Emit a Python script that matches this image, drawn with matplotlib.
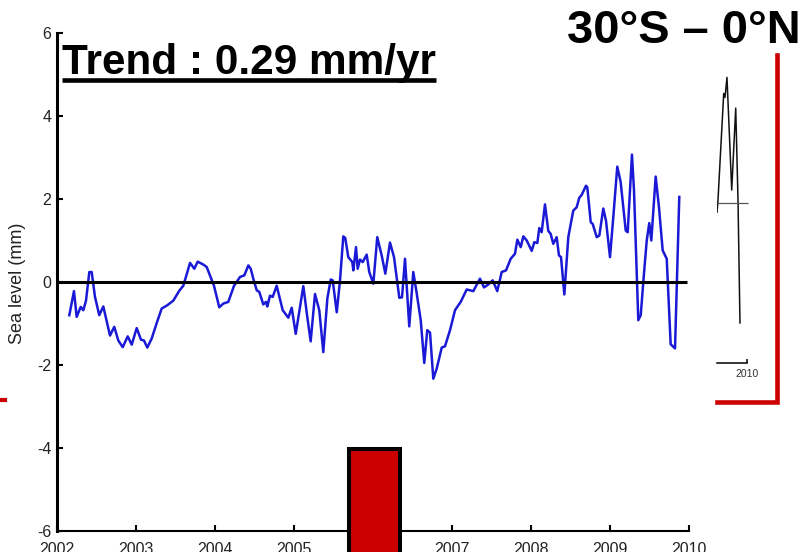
import numpy as np
import matplotlib.pyplot as plt
from matplotlib.patches import Rectangle
from matplotlib.lines import Line2D

plt.rcParams['font.family'] = ['Liberation Sans', 'DejaVu Sans']
plt.rcParams['axes.unicode_minus'] = False

##--------------------- DATA --------------------
# mean sea level, 30S-0N band (mm)
years = [2002.156, 2002.215, 2002.249, 2002.300, 2002.333, 2002.367, 2002.409, 2002.439,
         2002.481, 2002.535, 2002.586, 2002.671, 2002.725, 2002.776, 2002.832, 2002.895,
         2002.946, 2003.009, 2003.063, 2003.101, 2003.143, 2003.199, 2003.262, 2003.325,
         2003.396, 2003.472, 2003.548, 2003.599, 2003.684, 2003.738, 2003.781, 2003.852,
         2003.895, 2003.987, 2004.054, 2004.105, 2004.168, 2004.241, 2004.316, 2004.371,
         2004.422, 2004.452, 2004.485, 2004.528, 2004.561, 2004.611, 2004.646, 2004.662,
         2004.696, 2004.730, 2004.781, 2004.857, 2004.928, 2004.971, 2005.022, 2005.118,
         2005.168, 2005.211, 2005.266, 2005.320, 2005.371, 2005.422, 2005.465, 2005.490,
         2005.541, 2005.582, 2005.624, 2005.649, 2005.687, 2005.738, 2005.751, 2005.785,
         2005.806, 2005.835, 2005.870, 2005.920, 2005.953, 2006.004, 2006.054, 2006.110,
         2006.156, 2006.215, 2006.266, 2006.333, 2006.367, 2006.405, 2006.459, 2006.510,
         2006.553, 2006.604, 2006.649, 2006.687, 2006.722, 2006.763, 2006.806, 2006.870,
         2006.911, 2006.975, 2007.038, 2007.110, 2007.186, 2007.270, 2007.354, 2007.405,
         2007.459, 2007.515, 2007.573, 2007.629, 2007.684, 2007.743, 2007.797, 2007.827,
         2007.870, 2007.903, 2007.946, 2008.009, 2008.042, 2008.080, 2008.105, 2008.135,
         2008.177, 2008.219, 2008.249, 2008.282, 2008.325, 2008.354, 2008.380, 2008.422,
         2008.472, 2008.535, 2008.578, 2008.611, 2008.642, 2008.696, 2008.713, 2008.756,
         2008.781, 2008.832, 2008.865, 2008.915, 2008.949, 2009.000, 2009.042, 2009.092,
         2009.135, 2009.199, 2009.224, 2009.278, 2009.304, 2009.358, 2009.389, 2009.430,
         2009.465, 2009.497, 2009.523, 2009.578, 2009.620, 2009.667, 2009.718, 2009.768,
         2009.823, 2009.877]
sea_level = [-0.80, -0.22, -0.84, -0.60, -0.68, -0.45, 0.24, 0.24,
             -0.36, -0.80, -0.59, -1.29, -1.08, -1.41, -1.57, -1.31,
             -1.51, -1.11, -1.39, -1.41, -1.58, -1.36, -0.99, -0.64,
             -0.56, -0.45, -0.21, -0.09, 0.46, 0.32, 0.49, 0.42,
             0.36, -0.09, -0.61, -0.52, -0.48, -0.09, 0.12, 0.16,
             0.40, 0.32, 0.08, -0.20, -0.24, -0.54, -0.48, -0.59,
             -0.33, -0.36, -0.09, -0.68, -0.86, -0.62, -1.25, -0.10,
             -0.84, -1.43, -0.29, -0.68, -1.69, -0.40, 0.06, 0.04,
             -0.73, 0.03, 1.10, 1.06, 0.60, 0.48, 0.28, 0.84,
             0.32, 0.54, 0.48, 0.66, 0.24, -0.04, 1.08, 0.64,
             0.20, 0.95, 0.60, -0.38, -0.37, 0.56, -1.07, 0.24,
             -0.27, -0.92, -1.95, -1.16, -1.22, -2.33, -2.09, -1.58,
             -1.55, -1.16, -0.68, -0.48, -0.18, -0.22, 0.08, -0.13,
             -0.06, 0.04, -0.22, 0.24, 0.28, 0.56, 0.68, 1.02,
             0.84, 1.10, 1.00, 0.75, 0.96, 0.94, 1.30, 1.20,
             1.87, 1.23, 1.16, 0.92, 1.08, 0.64, 0.60, -0.30,
             1.08, 1.72, 1.80, 2.03, 2.10, 2.32, 2.28, 1.44,
             1.40, 1.08, 1.12, 1.77, 1.48, 0.60, 1.57, 2.78,
             2.41, 1.24, 1.20, 3.07, 2.20, -0.92, -0.80, 0.20,
             1.00, 1.42, 1.00, 2.54, 1.80, 0.76, 0.56, -1.50,
             -1.60, 2.05]

xticks = [2002, 2003, 2004, 2005, 2006, 2007, 2008, 2009, 2010]
yticks = [-6, -4, -2, 0, 2, 4, 6]
zero_end = 2009.97
trend_label = 'Trend : 0.29 mm/yr'
region_label = '30°S – 0°N'
ylabel = 'Sea level (mm)'

# neighbouring panel, mostly hidden behind the main one
nb_years = [2009.423, 2009.442, 2009.552, 2009.577, 2009.615, 2009.706, 2009.783, 2009.827, 2009.865]
nb_level = [-0.35, 0.10, 4.10, 3.95, 4.70, 0.48, 3.55, 0.10, -4.50]
nb_zero_end = 2010.02

##--------------------- FIGURE --------------------
W, H = 810, 552
def fx(px): return px / W
def fy(py): return 1 - py / H

fig = plt.figure(figsize=(W / 100, H / 100), dpi=100)

# neighbour panel first so the main one sits on top
nb = fig.add_axes([fx(717), fy(363), fx(760) - fx(717), fy(42.7) - fy(363)])
nb.set_xlim(2009.423, 2010.25)
nb.set_ylim(-6, 6)
nb.patch.set_alpha(0)
for s in ['top', 'right', 'left']:
    nb.spines[s].set_visible(False)
nb.spines['bottom'].set_linewidth(1.1)
nb.spines['bottom'].set_bounds(2009.423, 2010)
nb.plot(nb_years, nb_level, color='#111111', lw=1.1)
nb.hlines(0, 2009.423, nb_zero_end, color='#555555', lw=0.9)
nb.set_yticks([])
nb.set_xticks([2010])
nb.tick_params(axis='x', direction='in', length=3, width=1.1, pad=4, labelsize=7.5, labelcolor='#333333')

ax = fig.add_axes([fx(57), fy(531), fx(689) - fx(57), fy(33) - fy(531)])
ax.plot(years, sea_level, color='#1a1ad6', lw=1.8, zorder=2)
ax.hlines(0, xticks[0], zero_end, color='black', lw=2.2, zorder=3)
ax.set_xlim(2002, 2010)
ax.set_ylim(-6, 6)
ax.set_xticks(xticks)
ax.set_yticks(yticks)
ax.set_yticklabels([str(v) for v in yticks])
ax.spines['top'].set_visible(False)
ax.spines['right'].set_visible(False)
ax.spines['left'].set_linewidth(2.2)
ax.spines['bottom'].set_linewidth(1.5)
ax.tick_params(axis='both', direction='in', length=4.5, width=1.5, labelsize=11.5, labelcolor='#222222')
ax.tick_params(axis='x', pad=8)
ax.tick_params(axis='y', pad=4)

fig.text(fx(18), fy(283), ylabel, rotation=90, ha='center', va='center', fontsize=13, color='#222222')

t = fig.text(fx(62), fy(74), trend_label, ha='left', va='baseline', fontsize=30.4, fontweight='bold')
fig.text(fx(567), fy(43), region_label, ha='left', va='baseline', fontsize=33.8, fontweight='bold')

# underline the trend text
fig.canvas.draw()
bb = t.get_window_extent()
fig.add_artist(Line2D([bb.x0 / W, bb.x1 / W], [fy(79.5), fy(79.5)], transform=fig.transFigure,
                      color='black', lw=3.3, solid_capstyle='butt'))

# red markers
red = '#cc0000'
fig.add_artist(Line2D([fx(777), fx(777), fx(717)], [fy(55), fy(401.5), fy(401.5)],
                      transform=fig.transFigure, color=red, lw=3.3, solid_joinstyle='miter'))
fig.add_artist(Line2D([fx(0), fx(5)], [fy(400), fy(400)], transform=fig.transFigure, color=red, lw=3))
fig.add_artist(Rectangle((fx(348.7), -0.05), fx(399.7) - fx(348.7), fy(449) + 0.05,
                         transform=fig.transFigure, facecolor=red, edgecolor='black', lw=2.9, zorder=10))

fig.savefig('out.png', dpi=100)
